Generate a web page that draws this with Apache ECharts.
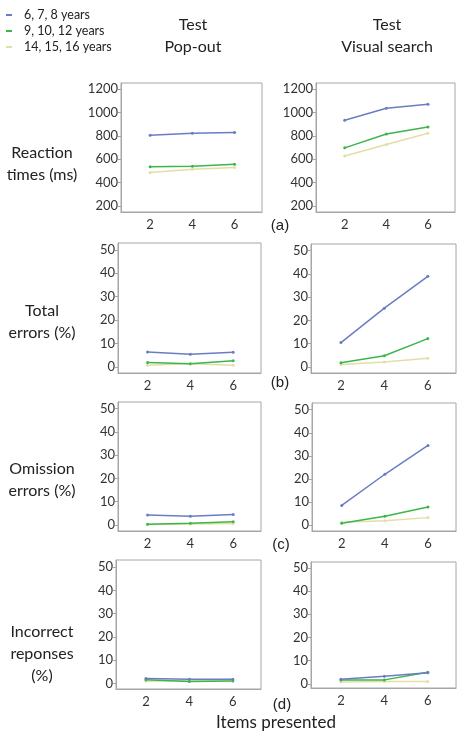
<!DOCTYPE html>
<html>
<head>
<meta charset="utf-8">
<script src="https://cdn.jsdelivr.net/npm/echarts@6/dist/echarts.min.js"></script>
<style>
html,body{margin:0;padding:0;background:#fff;}
#chart{width:466px;height:742px;}
</style>
</head>
<body>
<div id="chart"></div>
<script>
// ---- data ----
const groups = ['6, 7, 8 years', '9, 10, 12 years', '14, 15, 16 years'];
const itemsPresented = [2, 4, 6];
const xTickLabels = [2, 4, 6];
const rtTickLabels = [200, 400, 600, 800, 1000, 1200];
const pctTickLabels = [0, 10, 20, 30, 40, 50];

const rtPop_678 = [805, 822, 828];
const rtPop_91012 = [535, 540, 558];
const rtPop_141516 = [487, 514, 530];
const rtVis_678 = [933, 1034, 1068];
const rtVis_91012 = [697, 815, 875];
const rtVis_141516 = [628, 726, 822];

const totPop_678 = [6.4, 5.4, 6.3];
const totPop_91012 = [1.9, 1.4, 2.6];
const totPop_141516 = [0.7, 1.3, 0.7];
const totVis_678 = [10.5, 25.3, 39.0];
const totVis_91012 = [1.8, 4.8, 12.2];
const totVis_141516 = [1.1, 2.1, 3.7];

const omPop_678 = [4.3, 3.7, 4.5];
const omPop_91012 = [0.3, 0.7, 1.4];
const omPop_141516 = [0.2, 0.4, 0.6];
const omVis_678 = [8.5, 22.0, 34.5];
const omVis_91012 = [0.8, 3.8, 7.8];
const omVis_141516 = [1.2, 1.8, 3.2];

const incPop_678 = [2.2, 1.9, 1.9];
const incPop_91012 = [1.7, 0.9, 1.1];
const incPop_141516 = [1.0, 1.3, 1.4];
const incVis_678 = [2.0, 3.3, 4.8];
const incVis_91012 = [1.6, 1.7, 5.0];
const incVis_141516 = [0.8, 1.0, 1.0];

// ---- layout ----
const colors = ['#6b7dc2', '#3cb54b', '#e2dfa4'];
const FONT = 'Lato, "Open Sans", sans-serif';
const panels = [
  {grid: {left: 121, top: 83, width: 141, height: 129}, y: [150, 1250], ticks: rtTickLabels, data: [rtPop_678, rtPop_91012, rtPop_141516]},
  {grid: {left: 316, top: 83, width: 139, height: 129}, y: [150, 1250], ticks: rtTickLabels, data: [rtVis_678, rtVis_91012, rtVis_141516]},
  {grid: {left: 118, top: 243, width: 143, height: 130}, y: [-2.6, 52.9], ticks: pctTickLabels, data: [totPop_678, totPop_91012, totPop_141516]},
  {grid: {left: 311, top: 244, width: 145, height: 129}, y: [-2.6, 52.9], ticks: pctTickLabels, data: [totVis_678, totVis_91012, totVis_141516]},
  {grid: {left: 118, top: 402, width: 143, height: 129}, y: [-2.6, 52.9], ticks: pctTickLabels, data: [omPop_678, omPop_91012, omPop_141516]},
  {grid: {left: 312, top: 403, width: 144, height: 128}, y: [-2.6, 52.9], ticks: pctTickLabels, data: [omVis_678, omVis_91012, omVis_141516]},
  {grid: {left: 116, top: 560, width: 145, height: 129}, y: [-2.3, 53.0], ticks: pctTickLabels, data: [incPop_678, incPop_91012, incPop_141516]},
  {grid: {left: 311, top: 562, width: 145, height: 126}, y: [-1.8, 52.5], ticks: pctTickLabels, data: [incVis_678, incVis_91012, incVis_141516]}
];

const grids = [], xAxes = [], yAxes = [], series = [];
panels.forEach((p, i) => {
  grids.push(Object.assign({show: true, borderColor: '#a6a6a6', borderWidth: 1, backgroundColor: '#fff', containLabel: false, outerBoundsMode: 'none'}, p.grid));
  xAxes.push({
    type: 'value', gridIndex: i, min: 0.62, max: 7.3,
    axisLine: {show: true, onZero: false, lineStyle: {color: '#a6a6a6'}},
    axisTick: {show: false},
    splitLine: {show: false},
    axisLabel: {customValues: xTickLabels, color: '#333', fontSize: 13, fontFamily: FONT, margin: 6, formatter: v => String(v)}
  });
  yAxes.push({
    type: 'value', gridIndex: i, min: p.y[0], max: p.y[1],
    axisLine: {show: true, onZero: false, lineStyle: {color: '#a6a6a6'}},
    axisTick: {show: true, length: 3, customValues: p.ticks, lineStyle: {color: '#a6a6a6'}},
    splitLine: {show: false},
    axisLabel: {customValues: p.ticks, color: '#333', fontSize: 13, fontFamily: FONT, margin: 3, formatter: v => String(v)}
  });
  [2, 1, 0].forEach(g => {
    series.push({
      name: groups[g], type: 'line', xAxisIndex: i, yAxisIndex: i,
      data: itemsPresented.map((x, k) => [x, p.data[g][k]]),
      symbol: 'circle', symbolSize: 3, showSymbol: true,
      itemStyle: {color: colors[g]},
      lineStyle: {color: colors[g], width: 1.5},
      emphasis: {disabled: true}, animation: false
    });
  });
});

function txt(x, y, s, size, family, align) {
  return {type: 'text', x: x, y: y, style: {text: s, fill: '#222', font: size + 'px ' + family, textAlign: align || 'center', textVerticalAlign: 'middle', lineHeight: Math.round(size * 1.4)}};
}

const graphics = [
  txt(193, 36, 'Test\nPop-out', 16, FONT),
  txt(387, 36, 'Test\nVisual search', 16, FONT),
  txt(42, 164, 'Reaction\ntimes (ms)', 16, FONT),
  txt(42, 322, 'Total\nerrors (%)', 16, FONT),
  txt(42, 480, 'Omission\nerrors (%)', 16, FONT),
  txt(42, 654, 'Incorrect\nreponses\n(%)', 16, FONT),
  txt(280, 226, '(a)', 15, 'Arial, "Liberation Sans", sans-serif'),
  txt(280, 383, '(b)', 15, 'Arial, "Liberation Sans", sans-serif'),
  txt(281, 545, '(c)', 15, 'Arial, "Liberation Sans", sans-serif'),
  txt(282, 705, '(d)', 15, 'Arial, "Liberation Sans", sans-serif'),
  txt(276, 723, 'Items presented', 17, FONT)
];

const chart = echarts.init(document.getElementById('chart'), null, {renderer: 'canvas'});
chart.setOption({
  animation: false,
  backgroundColor: '#fff',
  color: colors,
  legend: {
    orient: 'vertical', left: 6, top: 8, padding: 0,
    data: groups.map((g, i) => ({name: g, icon: 'rect', itemStyle: {color: colors[i]}})),
    itemWidth: 6, itemHeight: 2, itemGap: 2,
    textStyle: {fontSize: 12.5, fontFamily: FONT, color: '#222', padding: [0, 0, 0, 7], lineHeight: 14},
    selectedMode: false
  },
  grid: grids,
  xAxis: xAxes,
  yAxis: yAxes,
  series: series,
  graphic: graphics
});
</script>
</body>
</html>
